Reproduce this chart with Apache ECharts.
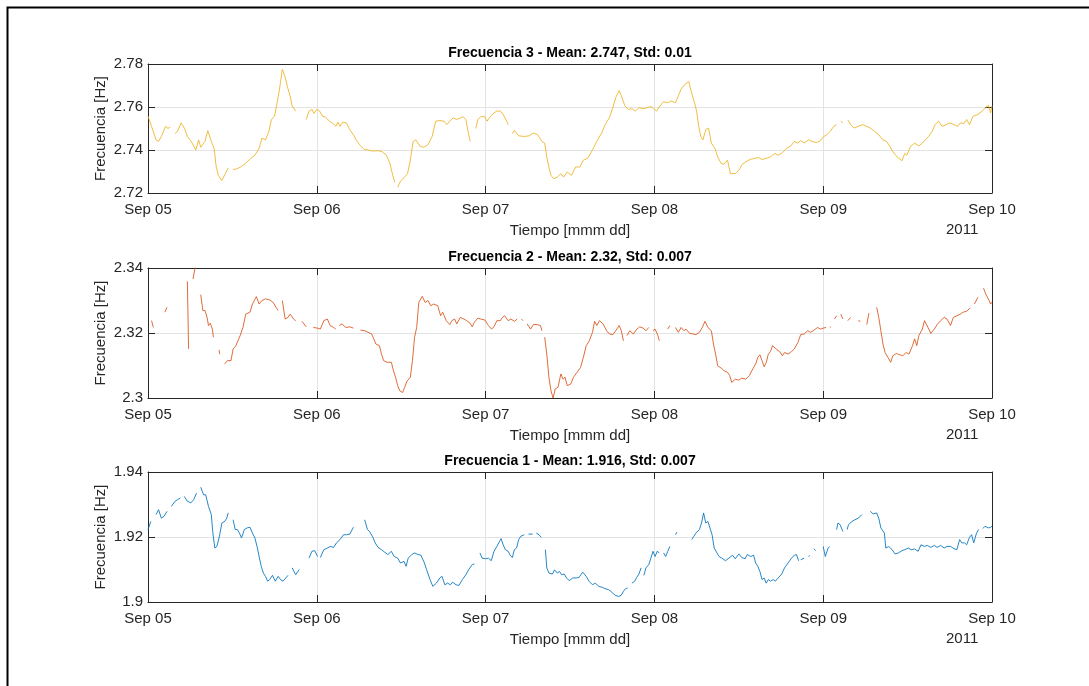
<!DOCTYPE html>
<html><head><meta charset="utf-8">
<script src="https://cdn.jsdelivr.net/npm/echarts@6/dist/echarts.min.js"></script>
<style>html,body{margin:0;padding:0;background:#fff}#c{width:1089px;height:686px}</style>
</head><body><div id="c"></div>
<script>
// time axis in hours from 2011-09-05 00:00
const dayLabels = ['Sep 05','Sep 06','Sep 07','Sep 08','Sep 09','Sep 10'];
const yearLabel = '2011';
const panelTitles = [
  'Frecuencia 3 - Mean: 2.747, Std: 0.01',
  'Frecuencia 2 - Mean: 2.32, Std: 0.007',
  'Frecuencia 1 - Mean: 1.916, Std: 0.007'
];
const yLimits3 = [2.72, 2.78];
const yLimits2 = [2.30, 2.34];
const yLimits1 = [1.90, 1.94];

// [hour, Hz]; null = gap in record
const freq3 = [[0,2.7557],[0.5,2.751],[1.15,2.7447],[1.5,2.744],[1.9,2.7463],[2.5,2.751],[2.85,2.750],[3.15,2.7507],[3.5,null],
[3.85,2.7476],[4.2,2.7487],[4.7,2.7526],[5.2,2.750],[5.6,2.7463],[6.15,2.744],[6.8,2.740],[7.2,2.7447],[7.5,2.7413],[8.1,2.744],[8.5,2.749],[9.0,2.744],[9.4,2.7408],[9.7,2.7321],[10.0,2.7282],[10.5,2.7258],[11.0,2.729],[11.4,2.7316],[11.75,null],
[12.1,2.7309],[12.7,2.7313],[13.3,2.7324],[13.85,2.7337],[14.6,2.7361],[15.2,2.7376],[15.8,2.7408],[16.2,2.7455],[16.7,2.7447],[17.2,2.7487],[17.55,2.7542],[18.0,2.7557],[18.4,2.7628],[18.7,2.7683],[19.1,2.7775],[19.5,2.7739],[19.85,2.7691],[20.2,2.7652],[20.5,2.7605],[21.0,2.7581],[21.7,null],
[22.5,2.7542],[22.9,2.7581],[23.3,2.7589],[23.6,2.757],[24.0,2.7589],[24.4,2.7581],[24.8,2.7557],[25.2,2.7554],[25.8,2.7534],[26.4,2.7521],[26.7,2.751],[27.0,2.7529],[27.3,2.751],[27.7,2.7529],[28.2,2.7526],[28.7,2.7494],[29.2,2.7471],[29.6,2.7447],[30.1,2.7424],[30.7,2.7403],[31.3,2.740],[31.9,2.7395],[32.7,2.7397],[33.3,2.7392],[33.9,2.7376],[34.4,2.7337],[34.8,2.7282],[35.1,2.725],[35.3,null],
[35.5,2.7227],[35.9,2.7255],[36.4,2.7271],[36.9,2.729],[37.3,2.7353],[37.7,2.744],[38.1,2.7447],[38.7,2.7416],[39.2,2.7413],[39.8,2.7424],[40.4,2.7463],[40.9,2.7534],[41.5,2.7537],[42.1,2.7534],[42.5,2.7518],[42.9,2.7534],[43.4,2.755],[43.85,2.7542],[44.2,2.7546],[44.8,2.7554],[45.2,2.7542],[45.5,2.7487],[45.8,2.744],[46.2,null],
[46.6,2.750],[46.9,2.7542],[47.3,2.7554],[47.8,2.7557],[48.2,2.7534],[48.7,2.7557],[49.2,2.7573],[49.6,2.7581],[50.1,2.7581],[50.5,2.7565],[51.0,2.7534],[51.2,2.7518],[51.5,null],
[51.8,2.7476],[52.1,2.7491],[52.7,2.7466],[53.5,2.7463],[54.2,2.7466],[54.8,2.7479],[55.4,2.7471],[56.0,2.744],[56.4,2.7432],[56.7,2.7368],[57.0,2.7321],[57.3,2.7282],[57.7,2.7266],[58.2,2.7274],[58.7,2.729],[59.1,2.7274],[59.6,2.7298],[60.2,2.7282],[60.8,2.7321],[61.4,2.7321],[61.9,2.7353],[62.5,2.7361],[63.2,2.740],[63.8,2.744],[64.5,2.7479],[65.0,2.7518],[65.6,2.755],[66.1,2.7597],[66.5,2.7644],[67.0,2.7676],[67.3,2.7652],[67.8,2.7605],[68.3,2.7589],[68.85,2.7592],[69.3,2.7581],[69.8,2.7597],[70.4,2.7592],[71.0,2.7597],[71.5,2.7602],[71.9,2.7592],[72.3,2.7581],[72.8,2.7605],[73.3,2.7624],[73.9,2.762],[74.4,2.7628],[75.0,2.762],[75.4,2.7652],[75.8,2.7683],[76.4,2.7707],[76.9,2.7718],[77.2,2.7676],[77.7,2.762],[78.0,2.7581],[78.3,2.751],[78.6,2.7463],[78.9,2.7447],[79.3,2.7494],[79.7,2.7502],[80.1,2.7432],[80.6,2.7408],[81.0,2.7368],[81.5,2.7337],[81.9,2.7334],[82.4,2.7353],[82.8,2.729],[83.5,2.729],[84.0,2.7306],[84.5,2.7334],[85.0,2.7345],[85.6,2.7356],[86.2,2.7361],[86.8,2.7365],[87.3,2.7356],[87.9,2.7361],[88.5,2.7368],[89.1,2.7384],[89.6,2.7376],[90.2,2.7387],[90.8,2.7408],[91.4,2.7419],[91.9,2.744],[92.4,2.7432],[92.8,2.7444],[93.3,2.7432],[93.9,2.7447],[94.4,2.744],[95.0,2.7435],[95.5,2.744],[96.0,2.746],[96.5,2.7471],[97.0,2.7487],[97.5,2.751],[97.9,2.7518],[98.2,null],
[98.5,2.7534],[98.8,2.7526],[99.1,null],
[99.5,2.754],[99.9,2.7518],[100.4,2.7502],[101.0,2.751],[101.6,2.7518],[102.2,2.751],[102.7,2.7502],[103.3,2.7487],[103.9,2.7471],[104.5,2.7447],[105.0,2.744],[105.5,2.7416],[105.9,2.7392],[106.5,2.7368],[107.2,2.735],[107.6,2.7384],[107.9,2.7376],[108.4,2.7416],[109.0,2.7432],[109.6,2.7419],[110.1,2.7432],[110.5,2.7447],[111.0,2.7463],[111.5,2.7487],[111.9,2.7518],[112.4,2.7534],[112.9,2.751],[113.5,2.7518],[114.0,2.7526],[114.6,2.7518],[115.1,2.751],[115.5,2.7526],[116.0,2.7523],[116.4,2.7542],[116.8,2.7518],[117.3,2.7557],[118.0,2.7565],[118.6,2.7581],[119.1,2.7597],[119.5,2.7608],[119.8,2.7573],[120,2.7605]];

const freq2 = [[0.5,2.3238],[0.77,2.3217],[1.5,null],
[2.4,2.3264],[2.7,2.3279],[4,null],
[5.6,2.3359],[5.77,2.3151],[6.1,null],
[6.4,2.3366],[6.7,2.3402],[7.1,null],
[7.5,2.3318],[7.8,2.3269],[8.1,2.3269],[8.4,2.3248],[8.6,2.3223],[8.85,2.323],[9.15,2.3212],[9.3,2.3187],[9.7,null],
[10.1,2.3148],[10.2,2.3135],[10.5,null],
[10.9,2.3105],[11.3,2.3115],[11.8,2.3115],[12.1,2.3151],[12.5,2.3161],[13.1,2.3192],[13.5,2.3217],[13.9,2.3258],[14.5,2.3264],[14.85,2.3289],[15.4,2.3312],[15.8,2.3289],[16.2,2.33],[16.7,2.3305],[17.3,2.3302],[17.8,2.3294],[18.2,2.3279],[18.5,2.3269],[18.8,null],
[19.1,2.33],[19.5,2.3243],[19.9,2.3248],[20.2,2.3258],[20.7,2.3243],[21.0,2.3238],[21.4,null],
[21.9,2.3236],[22.5,2.3219],[23,null],
[23.5,2.3217],[24.1,2.3215],[24.5,2.3212],[25.0,2.3238],[25.5,2.3243],[25.9,2.3223],[26.4,2.3217],[26.7,2.3212],[26.95,null],
[27.2,2.3223],[27.6,2.3228],[28.1,2.3217],[28.7,2.3219],[29.2,2.3215],[29.7,null],
[30.2,2.3209],[30.8,2.3207],[31.3,2.3202],[31.8,2.3197],[32.1,2.3182],[32.4,2.3166],[32.9,2.3161],[33.2,2.3135],[33.5,2.3115],[34.0,2.311],[34.6,2.311],[34.9,2.3084],[35.2,2.3064],[35.5,2.3038],[35.8,2.3022],[36.2,2.3017],[36.5,2.3033],[36.8,2.3051],[37.3,2.3064],[37.6,2.3115],[37.9,2.3187],[38.2,2.3217],[38.5,2.3294],[39.0,2.3313],[39.4,2.3294],[39.8,2.33],[40.2,2.3284],[40.6,2.3289],[41.2,2.3284],[41.6,2.3253],[41.9,2.3264],[42.4,2.3238],[42.9,2.3226],[43.2,2.3238],[43.6,2.3243],[43.9,2.3228],[44.4,2.3248],[44.9,2.3243],[45.3,2.3238],[45.8,2.323],[46.1,2.3219],[46.4,2.3233],[46.9,2.3246],[47.3,2.3243],[47.9,2.324],[48.4,2.3223],[48.85,2.3212],[49.2,2.3219],[49.6,2.3238],[50.1,2.3238],[50.4,2.3248],[50.7,2.3253],[51.2,2.3238],[51.6,2.3243],[52.1,2.3236],[52.5,2.3243],[52.8,null],
[53.1,2.3243],[53.3,2.3238],[53.6,null],
[53.9,2.3228],[54.4,2.3212],[54.8,2.3226],[55.3,2.3226],[55.8,2.3223],[56.0,2.3207],[56.2,null],
[56.4,2.3187],[56.7,2.3135],[57.0,2.3064],[57.3,2.3022],[57.6,2.300],[57.9,2.3028],[58.3,2.3033],[58.7,2.3074],[59.0,2.3058],[59.3,2.3064],[59.6,2.3038],[60.1,2.3043],[60.5,2.3064],[61.0,2.3079],[61.5,2.3094],[61.9,2.3125],[62.3,2.3161],[62.7,2.3174],[63.2,2.3202],[63.5,2.3236],[63.8,2.3223],[64.2,2.3238],[64.7,2.3228],[65.2,2.3207],[65.6,2.3197],[66.1,2.3195],[66.5,2.3207],[67.0,2.3223],[67.3,2.3207],[67.6,2.3176],[67.85,null],
[68.1,2.3192],[68.5,2.3207],[69.0,2.3197],[69.5,2.3212],[69.9,2.3219],[70.4,2.3215],[70.8,2.3207],[71.2,2.3217],[71.5,null],
[71.8,2.3207],[72.1,2.3212],[72.5,2.3192],[72.7,2.3176],[73.3,null],
[73.9,2.3212],[74.2,2.3223],[74.6,null],
[75.0,2.3217],[75.4,2.3202],[75.8,2.3217],[76.2,2.3207],[76.5,2.3212],[77.0,2.3199],[77.5,2.3197],[77.9,2.3195],[78.4,2.3202],[78.8,2.3217],[79.2,2.3236],[79.6,2.3217],[80.1,2.3207],[80.4,2.3166],[80.7,2.3135],[81.0,2.3099],[81.5,2.3092],[81.9,2.3084],[82.4,2.3079],[82.7,2.3069],[83.0,2.3048],[83.5,2.3058],[84.0,2.3055],[84.4,2.3061],[85.0,2.3058],[85.5,2.3069],[85.9,2.3086],[86.4,2.3105],[86.7,2.3125],[87.0,2.3133],[87.3,2.3115],[87.6,2.3096],[87.9,2.3109],[88.2,2.3135],[88.5,2.3143],[88.8,2.3161],[89.3,2.3151],[89.8,2.3143],[90.2,2.313],[90.5,2.314],[91.0,2.3135],[91.5,2.3143],[91.9,2.3151],[92.4,2.3171],[92.8,2.3195],[93.3,2.3197],[93.8,2.3207],[94.2,2.3202],[94.7,2.3209],[95.2,2.3217],[95.6,2.3212],[96.0,2.3215],[96.4,2.3217],[96.7,null],
[96.95,2.3217],[97.1,2.3219],[97.3,null],
[97.6,2.3243],[97.9,2.3253],[98.2,null],
[98.5,2.3258],[98.8,2.3243],[99.1,null],
[99.5,2.3238],[99.9,2.3248],[100.4,null],
[101.0,2.3238],[101.3,2.3236],[101.7,null],
[102.2,2.3226],[102.5,2.3261],[103.0,null],
[103.6,2.3279],[103.9,2.3248],[104.2,2.3207],[104.5,2.3166],[104.8,2.314],[105.2,2.3125],[105.6,2.311],[105.9,2.313],[106.4,2.3137],[106.9,2.3133],[107.3,2.313],[107.8,2.314],[108.2,2.3135],[108.7,2.3161],[109.0,2.3182],[109.3,2.3161],[109.6,2.3192],[110.1,2.3212],[110.4,2.3238],[110.9,2.3217],[111.3,2.3199],[111.8,2.3212],[112.2,2.3226],[112.7,2.3238],[113.2,2.3248],[113.6,2.3243],[114.1,2.3223],[114.5,2.3248],[115.0,2.3253],[115.5,2.3258],[115.9,2.3264],[116.4,2.3267],[116.9,2.3277],[117.2,null],
[117.5,2.3289],[118.0,2.331],[118.4,null],
[118.8,2.3338],[119.1,2.332],[119.3,2.3325],[119.6,2.33],[119.8,2.3289],[120,2.3295]];

const freq1 = [[0,1.9223],[0.4,1.9248],[0.8,null],
[1.15,1.9269],[1.5,1.9284],[1.9,1.9258],[2.3,1.9264],[2.7,1.9279],[3.0,null],
[3.3,1.9294],[3.85,1.931],[4.2,1.9315],[4.6,1.932],[4.9,null],
[5.15,1.9325],[5.6,1.931],[6.1,1.9305],[6.5,1.9315],[6.9,1.9335],[7.2,null],
[7.5,1.9353],[7.9,1.933],[8.2,1.933],[8.6,1.9294],[9.0,1.9269],[9.2,1.9217],[9.5,1.9166],[9.8,1.9171],[10.2,1.9207],[10.5,1.9243],[10.9,1.9248],[11.2,1.9258],[11.4,1.9274],[11.75,null],
[12.1,1.9253],[12.4,1.9223],[12.7,1.9223],[13.0,1.9212],[13.3,1.9197],[13.7,1.9223],[14.1,1.9228],[14.5,1.923],[14.85,1.9212],[15.2,1.9197],[15.5,1.9171],[15.8,1.914],[16.1,1.911],[16.4,1.9089],[16.7,1.9079],[17.0,1.9064],[17.3,1.9069],[17.7,1.9082],[18.1,1.9064],[18.5,1.9079],[18.85,1.9069],[19.2,1.9064],[19.6,1.9074],[19.9,1.9082],[20.2,null],
[20.5,1.9105],[21.0,1.9084],[21.5,1.91],[22.2,null],
[22.9,1.9135],[23.3,1.9156],[23.7,1.9158],[24.1,1.914],[24.3,null],
[24.5,1.9137],[25.0,1.9161],[25.5,1.9166],[25.9,1.9171],[26.4,1.9168],[26.8,1.9182],[27.3,1.9192],[27.8,1.9207],[28.2,1.9207],[28.7,1.9209],[29.2,1.923],[30.0,null],
[30.8,1.9253],[31.2,1.9223],[31.5,1.9217],[31.9,1.9202],[32.3,1.9182],[32.7,1.9168],[33.2,1.9161],[33.6,1.9154],[34.1,1.9146],[34.6,1.9156],[35.0,1.914],[35.5,1.9135],[35.9,1.912],[36.4,1.9125],[36.7,1.911],[37.0,1.9135],[37.5,1.9146],[37.9,1.9151],[38.4,1.9146],[38.8,1.9144],[39.3,1.912],[39.6,1.91],[40.1,1.9069],[40.5,1.9048],[41.0,1.9058],[41.5,1.9074],[41.8,1.9079],[42.2,1.9053],[42.6,1.9058],[43.0,1.9053],[43.3,1.9061],[43.8,1.9053],[44.2,1.9051],[44.7,1.9069],[45.2,1.9084],[45.6,1.91],[46.1,1.9115],[46.4,1.9117],[46.8,null],
[47.2,1.9151],[47.5,1.9135],[48.0,1.9133],[48.4,1.9135],[48.8,1.9127],[49.2,1.9156],[49.6,1.9171],[50.0,1.9187],[50.2,1.9195],[50.5,1.9176],[50.8,1.9161],[51.2,1.9156],[51.5,1.9144],[51.8,1.9137],[52.1,1.9161],[52.4,1.9166],[52.7,1.9192],[53.0,1.9202],[53.5,1.9207],[53.8,null],
[54.1,1.9209],[54.7,1.9209],[54.95,null],
[55.2,1.9212],[55.6,1.9207],[55.9,1.9199],[56.2,null],
[56.5,1.9161],[56.7,1.9105],[57.0,1.9089],[57.5,1.9086],[57.8,1.9099],[58.2,1.9089],[58.5,1.9094],[58.8,1.9084],[59.2,1.9086],[59.5,1.9074],[59.9,1.9066],[60.4,1.9074],[60.9,1.9074],[61.3,1.9076],[61.8,1.9092],[62.3,1.9079],[62.7,1.9064],[63.2,1.9053],[63.6,1.9058],[64.1,1.9048],[64.6,1.9045],[65.0,1.9041],[65.5,1.9038],[65.9,1.9031],[66.4,1.9021],[66.9,1.9017],[67.3,1.9021],[67.6,1.9033],[67.9,1.9041],[68.2,1.9043],[68.5,null],
[68.8,1.9058],[69.2,1.9064],[69.5,1.9076],[69.8,1.9086],[70.1,1.9105],[70.3,null],
[70.5,1.9082],[70.8,1.9105],[71.2,1.9115],[71.5,1.9135],[71.8,1.9156],[72.1,1.914],[72.4,1.9156],[72.7,1.9151],[73.0,null],
[73.3,1.9151],[73.6,1.914],[73.9,1.9156],[74.2,1.9171],[74.6,null],
[75.0,1.9207],[75.2,1.9215],[76.0,null],
[77.3,1.9192],[77.6,1.9202],[77.9,1.9212],[78.4,1.9223],[78.7,1.9243],[79.0,1.9274],[79.3,1.9243],[79.6,1.9248],[79.9,1.9228],[80.2,1.9207],[80.5,1.9166],[80.9,1.9151],[81.2,1.914],[81.6,1.9135],[82.1,1.9127],[82.6,1.9135],[83.1,1.9144],[83.5,1.9133],[84.0,1.9148],[84.4,1.9137],[84.9,1.9133],[85.2,1.9146],[85.7,1.914],[86.1,1.9144],[86.4,1.912],[86.7,1.911],[87.0,1.9094],[87.3,1.9069],[87.6,1.9074],[87.9,1.9058],[88.2,1.9069],[88.5,1.9064],[88.9,1.9069],[89.2,1.9064],[89.6,1.9074],[90.1,1.9086],[90.5,1.9105],[91.0,1.912],[91.5,1.9135],[91.9,1.9144],[92.2,1.9146],[92.5,1.9127],[92.65,null],
[92.8,1.913],[93.3,1.9135],[93.6,null],
[93.9,1.914],[94.1,1.9143],[94.4,null],
[94.7,1.9164],[94.9,1.9158],[95.5,null],
[96.0,1.9171],[96.3,1.914],[96.7,1.9166],[96.9,1.9171],[97.5,null],
[97.9,1.9223],[98.1,1.9243],[98.4,1.9238],[98.8,1.9217],[99.1,null],
[99.4,1.9223],[99.6,1.9238],[100.1,1.9248],[100.5,1.9253],[101.0,1.9258],[101.5,1.9269],[102.1,null],
[102.7,1.9279],[103.1,1.9271],[103.6,1.9274],[103.9,1.9258],[104.2,1.9228],[104.7,1.9212],[104.9,1.9166],[105.3,1.9171],[105.8,1.9161],[106.2,1.9148],[106.7,1.9151],[107.2,1.9158],[107.6,1.9161],[108.1,1.9166],[108.5,1.9161],[109.0,1.9163],[109.5,1.9156],[109.9,1.9176],[110.4,1.9171],[110.8,1.9174],[111.3,1.9168],[111.8,1.9174],[112.2,1.9168],[112.7,1.9174],[113.2,1.9166],[113.6,1.9171],[114.1,1.9171],[114.6,1.9164],[115.0,1.9161],[115.4,1.9192],[115.7,1.9182],[116.1,1.9182],[116.4,1.9176],[116.8,1.9199],[117.1,1.9207],[117.4,1.9182],[117.8,1.9212],[118.1,1.9223],[118.4,null],
[118.7,1.9226],[119.0,1.9233],[119.5,1.9228],[119.8,1.923],[120,1.9233]];

const FONT = '"Liberation Sans", Arial, Helvetica, sans-serif';
const AX = '#262626';
const GRIDC = '#e3e3e3';
const panels = [
  {title: panelTitles[0], data: freq3, lim: yLimits3, color: '#EDB120', top: 64, h: 129},
  {title: panelTitles[1], data: freq2, lim: yLimits2, color: '#D95319', top: 268, h: 130},
  {title: panelTitles[2], data: freq1, lim: yLimits1, color: '#0072BD', top: 472, h: 130}
];
const L = 148, R = 1089 - 992;

const option = {
  animation: false,
  backgroundColor: '#ffffff',
  title: [], grid: [], xAxis: [], yAxis: [], series: [], graphic: []
};
panels.forEach((p, i) => {
  option.title.push({
    text: p.title, left: (L + 992) / 2, top: p.top - 18, textAlign: 'center', padding: 0,
    textStyle: {fontFamily: FONT, fontSize: 14, fontWeight: 'bold', color: '#000'}
  });
  option.grid.push({left: L, right: R, top: p.top, height: p.h, containLabel: false});
  const tick = {show: true, inside: true, length: 7, lineStyle: {color: AX, width: 1}};
  const line = {show: true, onZero: false, lineStyle: {color: AX, width: 1}};
  option.xAxis.push({
    type: 'value', gridIndex: i, min: 0, max: 120, interval: 24, position: 'bottom',
    axisLine: line, axisTick: tick,
    axisLabel: {formatter: v => dayLabels[Math.round(v / 24)], color: AX, fontFamily: FONT, fontSize: 15, margin: 9, showMinLabel: true, showMaxLabel: true},
    splitLine: {show: true, lineStyle: {color: GRIDC, width: 1}},
    name: 'Tiempo [mmm dd]', nameLocation: 'middle', nameGap: 30, nameMoveOverlap: false,
    nameTextStyle: {color: AX, fontFamily: FONT, fontSize: 15}
  });
  option.xAxis.push({
    type: 'value', gridIndex: i, min: 0, max: 120, interval: 24, position: 'top',
    axisLine: line, axisTick: tick, axisLabel: {show: false}, splitLine: {show: false}
  });
  const step = 0.02;
  option.yAxis.push({
    type: 'value', gridIndex: i, min: p.lim[0], max: p.lim[1], interval: step, position: 'left',
    axisLine: line, axisTick: tick,
    axisLabel: {formatter: v => String(parseFloat(v.toFixed(2))), color: AX, fontFamily: FONT, fontSize: 15, margin: 5, showMinLabel: true, showMaxLabel: true},
    splitLine: {show: true, lineStyle: {color: GRIDC, width: 1}},
    name: 'Frecuencia [Hz]', nameLocation: 'middle', nameGap: 40, nameRotate: 90, nameMoveOverlap: false,
    nameTextStyle: {color: AX, fontFamily: FONT, fontSize: 15}
  });
  option.yAxis.push({
    type: 'value', gridIndex: i, min: p.lim[0], max: p.lim[1], interval: step, position: 'right',
    axisLine: line, axisTick: tick, axisLabel: {show: false}, splitLine: {show: false}
  });
  option.series.push({
    type: 'line', xAxisIndex: 2 * i, yAxisIndex: 2 * i, data: p.data,
    symbol: 'none', showSymbol: false, connectNulls: false, clip: true,
    lineStyle: {color: p.color, width: 1, opacity: 0.85}, itemStyle: {color: p.color}
  });
  option.graphic.push({
    type: 'text', left: 946, top: p.top + p.h + 29,
    style: {text: yearLabel, fill: AX, font: '15px ' + FONT}
  });
});
option.graphic.push({
  type: 'rect', left: 5, top: 5, z: 100,
  shape: {width: 1200, height: 800},
  style: {fill: 'none', stroke: '#000', lineWidth: 2}
});

const chart = echarts.init(document.getElementById('c'), null, {renderer: 'canvas'});
chart.setOption(option);
</script></body></html>
